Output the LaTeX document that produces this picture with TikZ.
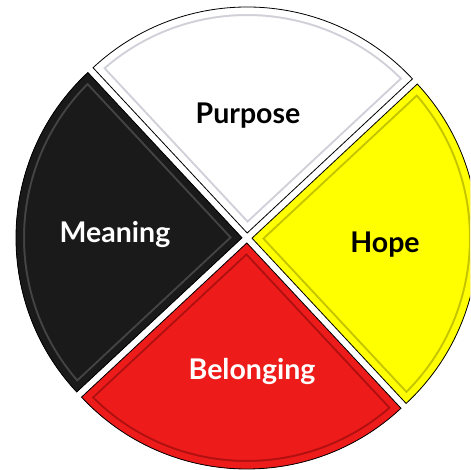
\documentclass[tikz,border=0pt]{standalone}
\usepackage{fontspec}
\setmainfont{Lato}
\usetikzlibrary{calc}

\definecolor{wheelblack}{HTML}{1A1A1A}
\definecolor{wheelred}{HTML}{EE1B1B}
\definecolor{wheelyellow}{HTML}{FFFF00}
\definecolor{bevblack}{HTML}{444444}
\definecolor{bevwhite}{HTML}{D0D0D8}
\definecolor{bevyellow}{HTML}{C4C400}
\definecolor{bevred}{HTML}{B01010}

\begin{document}
\begin{tikzpicture}[
    x=1pt, y=1pt,
    word/.style={font=\fontsize{28.5}{34}\selectfont\bfseries, inner sep=0pt},
    rim/.style={draw=black, line width=0.8pt}
  ]
    \useasboundingbox (0,0) rectangle (470,470);
    \clip (0,0) rectangle (470,470);
    \coordinate (hub) at (247,232);

    % four quarters of the wheel: bisector / fill / bevel line
    \foreach \m/\fc/\bc [evaluate=\m as \a using \m-45, evaluate=\m as \b using \m+45]
      in {88/white/bevwhite, 178/wheelblack/bevblack,
          268/wheelred/bevred, 358/wheelyellow/bevyellow}{
      \coordinate (apex) at ($(hub)+(\m:5)$);
      \begin{scope}
        \clip (apex) -- ++(\a:226) arc[start angle=\a, end angle=\b, radius=226] -- cycle;
        \fill[\fc] (apex) -- ++(\a:226) arc[start angle=\a, end angle=\b, radius=226] -- cycle;
        \draw[\bc, line width=18pt] (apex) -- ++(\a:226) arc[start angle=\a, end angle=\b, radius=226] -- cycle;
        \draw[\fc, line width=14pt] (apex) -- ++(\a:226) arc[start angle=\a, end angle=\b, radius=226] -- cycle;
      \end{scope}
      \draw[rim] (apex) -- ++(\a:226) arc[start angle=\a, end angle=\b, radius=226] -- cycle;
    }

    \node[word, text=black] (purpose) at (248,354.5) {Purpose};
    \node[word, text=white] (meaning) at (115,235.5) {Meaning};
    \node[word, text=black] (hope) at (385,225) {Hope};
    \node[word, text=white] (belonging) at (252,98.5) {Belonging};
\end{tikzpicture}
\end{document}
